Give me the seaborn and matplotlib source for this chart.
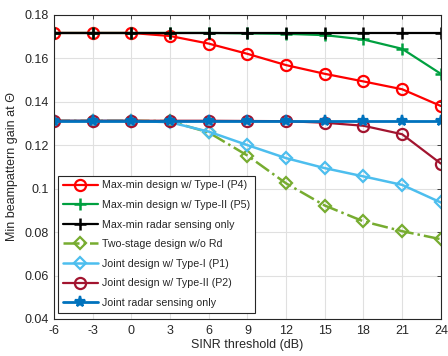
import numpy as np
import pandas as pd
import matplotlib
matplotlib.use("Agg")
import matplotlib.pyplot as plt
import seaborn as sns

sns.set_theme(style="white")
plt.rcParams["font.family"] = ["Liberation Sans", "DejaVu Sans"]
plt.rcParams["axes.unicode_minus"] = False

# SINR threshold (dB)
sinr = [-6, -3, 0, 3, 6, 9, 12, 15, 18, 21, 24]

maxmin_p4 = [0.1716, 0.1716, 0.1716, 0.1702, 0.1667, 0.1620, 0.1568, 0.1528, 0.1493, 0.1457, 0.1380]
maxmin_p5 = [0.1716, 0.1716, 0.1716, 0.1716, 0.1716, 0.1714, 0.1712, 0.1706, 0.1686, 0.1643, 0.1528]
maxmin_radar = [0.1716] * 11
two_stage = [0.1312, 0.1312, 0.1312, 0.1310, 0.1258, 0.1152, 0.1024, 0.0922, 0.0849, 0.0804, 0.0767]
joint_p1 = [0.1312, 0.1312, 0.1312, 0.1305, 0.1262, 0.1200, 0.1140, 0.1094, 0.1056, 0.1017, 0.0936]
joint_p2 = [0.1312, 0.1312, 0.1312, 0.1312, 0.1312, 0.1311, 0.1310, 0.1303, 0.1289, 0.1250, 0.1115]
joint_radar = [0.1312] * 11

labels = [
    "Max-min design w/ Type-I (P4)",
    "Max-min design w/ Type-II (P5)",
    "Max-min radar sensing only",
    "Two-stage design w/o Rd",
    "Joint design w/ Type-I (P1)",
    "Joint design w/ Type-II (P2)",
    "Joint radar sensing only",
]
series = [maxmin_p4, maxmin_p5, maxmin_radar, two_stage, joint_p1, joint_p2, joint_radar]
colors = ["#ff0000", "#00a040", "#000000", "#77ac30", "#4dbeee", "#a2142f", "#0072bd"]
markers = ["o", "+", "+", "D", "D", "o", "*"]
msizes = [8, 9, 9, 6.5, 6.5, 8, 8]
styles = ["-", "-", "-", "-.", "-", "-", "-"]
widths = [1.6, 1.6, 1.6, 1.8, 1.8, 1.6, 2.0]

fig = plt.figure(figsize=(4.48, 3.56), dpi=100)
ax = fig.add_axes([0.1205, 0.104, 0.8635, 0.8547])

for lab, vals, c, m, ms, ls, lw in zip(labels, series, colors, markers, msizes, styles, widths):
    df = pd.DataFrame({"SINR": sinr, "gain": vals})
    sns.lineplot(data=df, x="SINR", y="gain", ax=ax, color=c, marker=m,
                 markersize=ms, markerfacecolor="none" if m in ("o", "D") else c,
                 markeredgecolor=c, markeredgewidth=1.8 if m == "+" else 1.6,
                 linestyle=ls, linewidth=lw, label=lab)

ax.set_xlim(-6, 24)
ax.set_ylim(0.04, 0.18)
ax.set_xticks(sinr)
ax.set_yticks(np.arange(0.04, 0.181, 0.02))
ax.set_yticklabels(["0.04", "0.06", "0.08", "0.1", "0.12", "0.14", "0.16", "0.18"])
ax.grid(True, color="#e0e0e0", linewidth=0.8)
ax.set_axisbelow(True)
for s in ax.spines.values():
    s.set_color("#262626")
    s.set_linewidth(0.8)
ax.tick_params(direction="in", length=3, width=0.6, top=True, right=True,
               labelsize=9, colors="#262626", pad=4)
ax.set_xlabel("SINR threshold (dB)", fontsize=9, color="#262626", labelpad=2)
ax.set_ylabel("Min beampattern gain at Θ", fontsize=9, color="#262626", labelpad=4)

leg = ax.legend(loc="lower left", bbox_to_anchor=(0.01, 0.02), borderaxespad=0,
                fontsize=7.7, frameon=True, fancybox=False, edgecolor="#262626",
                framealpha=1, handlelength=3.3, handletextpad=0.4,
                labelspacing=0.9, borderpad=0.45)
leg.get_frame().set_linewidth(0.8)

fig.savefig("out.png", dpi=100)
